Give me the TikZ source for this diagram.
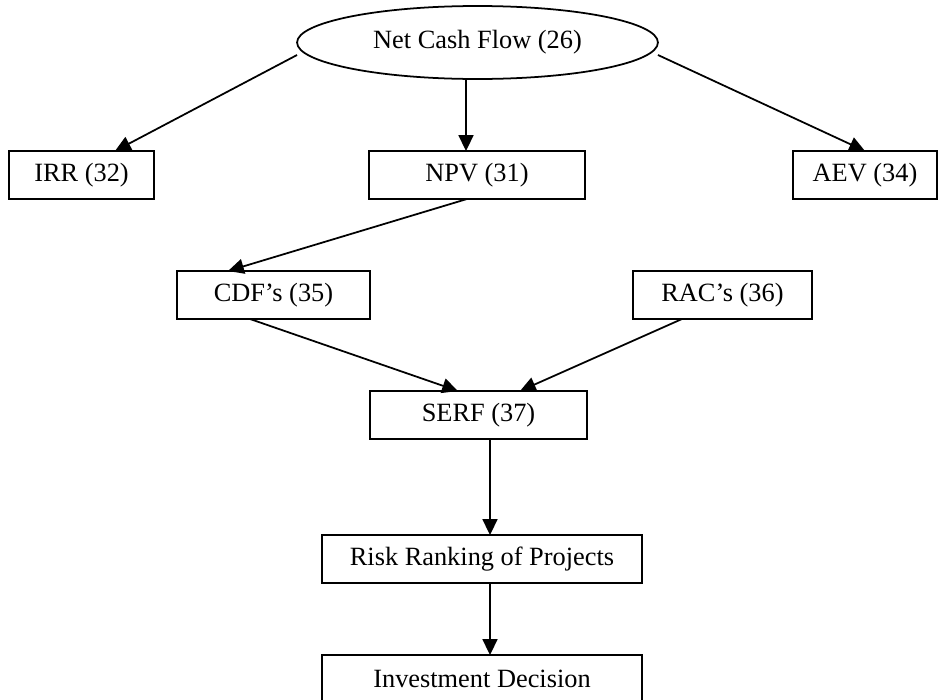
\documentclass[tikz,border=0pt]{standalone}
\usepackage{fontspec}
\setmainfont{Liberation Serif}
\usetikzlibrary{shapes.geometric,arrows.meta}
\begin{document}
\begin{tikzpicture}[x=0.02cm,y=-0.02cm,
  every node/.style={font=\fontsize{15}{18}\selectfont, inner sep=0pt, outer sep=0pt},
  stepbox/.style={draw, line width=1pt, minimum height=0.96cm},
  oval/.style={draw, ellipse, line width=1pt},
  conn/.style={line width=1pt, -{Triangle[length=9pt,width=8.5pt]}}]
\useasboundingbox (0,0) rectangle (938,700);
\node[oval, minimum width=7.22cm, minimum height=1.46cm] (ncf) at (477.5,42.5) {Net Cash Flow (26)};
\node[stepbox, minimum width=2.9cm]  (irr) at (81.5,175) {IRR (32)};
\node[stepbox, minimum width=4.32cm] (npv) at (477,175) {NPV (31)};
\node[stepbox, minimum width=2.88cm] (aev) at (865,175) {AEV (34)};
\node[stepbox, minimum width=3.86cm] (cdf) at (273.5,295) {CDF’s (35)};
\node[stepbox, minimum width=3.58cm] (rac) at (722.5,295) {RAC’s (36)};
\node[stepbox, minimum width=4.34cm] (serf) at (478.5,415) {SERF (37)};
\node[stepbox, minimum width=6.4cm] (risk) at (482,559) {Risk Ranking of Projects};
\node[stepbox, minimum width=6.4cm] (inv) at (482,679) {Investment Decision};
\draw[conn] ([yshift=-0.25cm]ncf.west) -- ([xshift=0.67cm]irr.north);
\draw[conn] ([xshift=-0.23cm]ncf.south) -- ([xshift=-0.22cm]npv.north);
\draw[conn] ([yshift=-0.25cm]ncf.east) -- (aev.north);
\draw[conn] ([xshift=-0.2cm]npv.south) -- ([xshift=-0.91cm]cdf.north);
\draw[conn] ([xshift=-0.47cm]cdf.south) -- ([xshift=-0.41cm]serf.north);
\draw[conn] ([xshift=-0.81cm]rac.south) -- ([xshift=0.83cm]serf.north);
\draw[conn] ([xshift=0.23cm]serf.south) -- ([xshift=0.16cm]risk.north);
\draw[conn] ([xshift=0.16cm]risk.south) -- ([xshift=0.16cm]inv.north);
\end{tikzpicture}
\end{document}
